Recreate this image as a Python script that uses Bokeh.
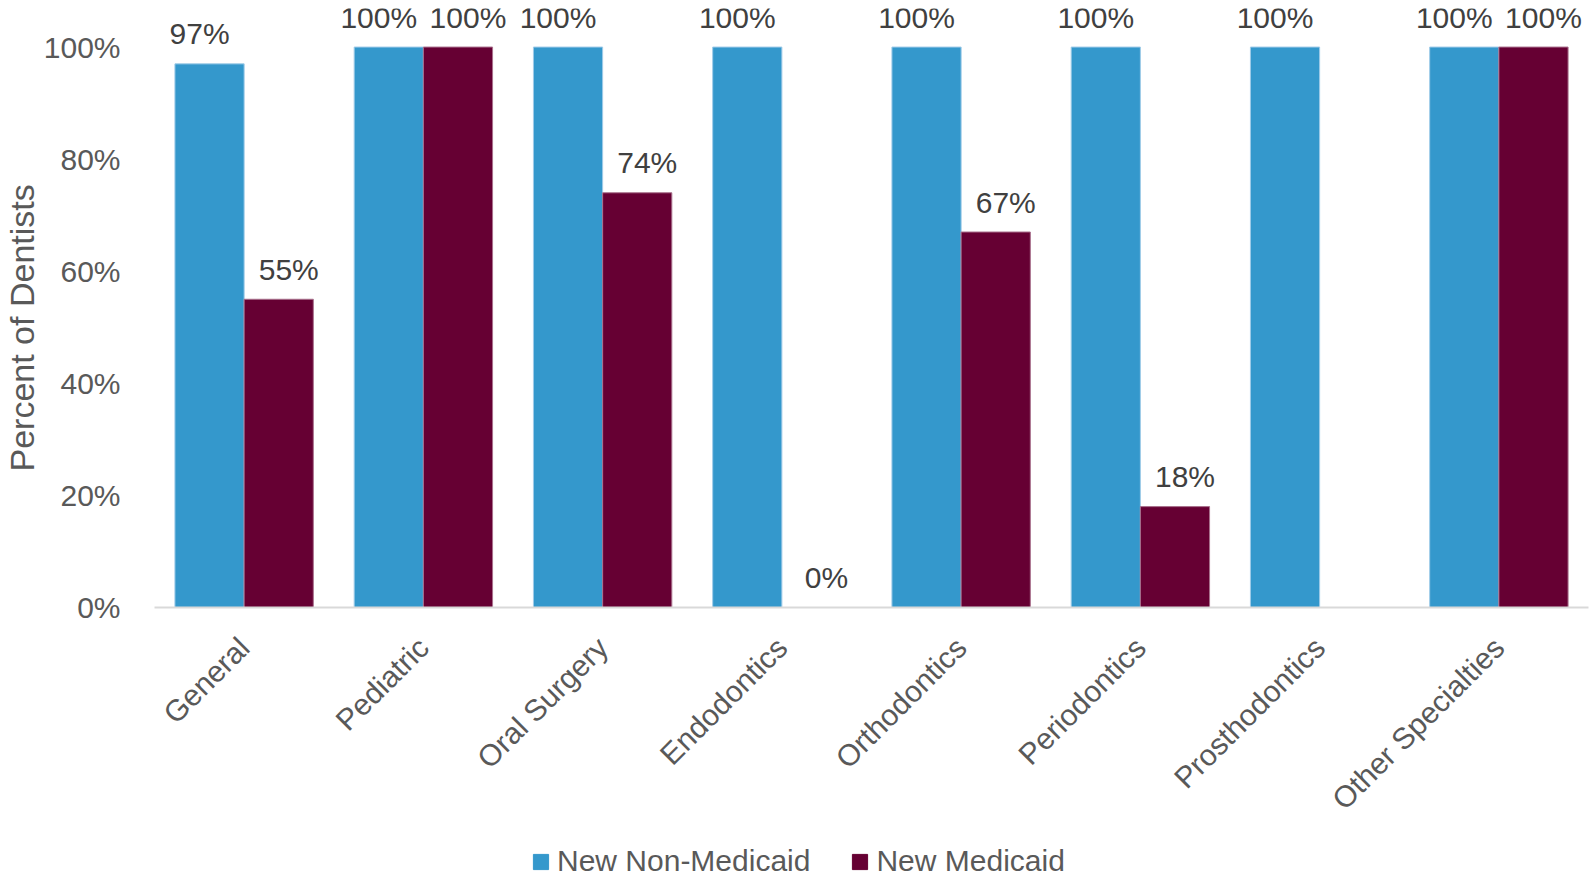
import math
from bokeh.plotting import figure
from bokeh.layouts import column
from bokeh.models import (ColumnDataSource, FactorRange, FixedTicker, NumeralTickFormatter,
                          Legend, LegendItem, Range1d, Title)
from bokeh.transform import dodge
from bokeh.core.properties import value
from bokeh.embed import file_html
from bokeh.resources import INLINE

categories = ["General", "Pediatric", "Oral Surgery", "Endodontics", "Orthodontics",
              "Periodontics", "Prosthodontics", "Other Specialties"]
non_medicaid = [0.97, 1.00, 1.00, 1.00, 1.00, 1.00, 1.00, 1.00]
medicaid = [0.55, 1.00, 0.74, 0.00, 0.67, 0.18, float("nan"), 1.00]
y_ticks = [0, 0.2, 0.4, 0.6, 0.8, 1.0]
series_names = ["New Non-Medicaid", "New Medicaid"]

BLUE = "#3498CC"
MAROON = "#660033"
FONT = "Liberation Sans"

def lbl(v):
    return "" if v != v else f"{round(v * 100)}%"

src = ColumnDataSource(dict(
    cat=categories,
    non=non_medicaid,
    med=medicaid,
    non_lbl=[lbl(v) for v in non_medicaid],
    med_lbl=[lbl(v) for v in medicaid],
))

p = figure(width=1589, height=830, x_range=FactorRange(*categories, range_padding=0),
           y_range=Range1d(0, 1.0688), output_backend="svg", toolbar_location=None,
           min_border_left=153, min_border_right=1, min_border_top=8, min_border_bottom=222)
p.x_range.range_padding = 0
p.outline_line_color = None
p.xgrid.visible = False
p.ygrid.visible = False
p.background_fill_color = "white"
p.border_fill_color = "white"

bw = 0.386
p.vbar(x=dodge("cat", -bw / 2, range=p.x_range), top="non", width=bw, source=src,
       fill_color=BLUE, line_color="#9FCBE8", line_width=1)
p.vbar(x=dodge("cat", bw / 2, range=p.x_range), top="med", width=bw, source=src,
       fill_color=MAROON, line_color="#A8708C", line_width=1)

p.text(x=dodge("cat", -bw / 2, range=p.x_range), y="non", text="non_lbl", source=src,
       x_offset=-10, y_offset=-30, text_align="center", text_baseline="alphabetic",
       text_font=value(FONT), text_font_size="30px", text_color="#404040")
p.text(x=dodge("cat", bw / 2, range=p.x_range), y="med", text="med_lbl", source=src,
       x_offset=10, y_offset=-30, text_align="center", text_baseline="alphabetic",
       text_font=value(FONT), text_font_size="30px", text_color="#404040")

# y axis
p.yaxis.ticker = FixedTicker(ticks=y_ticks)
p.yaxis.formatter = NumeralTickFormatter(format="0%")
p.yaxis.axis_line_color = None
p.yaxis.major_tick_line_color = None
p.yaxis.minor_tick_line_color = None
p.yaxis.major_label_standoff = 28
p.yaxis.major_label_text_font = FONT
p.yaxis.major_label_text_font_size = "30px"
p.yaxis.major_label_text_color = "#595959"

# x axis
p.xaxis.axis_line_color = "#D9D9D9"
p.xaxis.axis_line_width = 2
p.xaxis.major_tick_line_color = None
p.xaxis.minor_tick_line_color = None
p.xaxis.major_label_orientation = math.pi / 4
p.xaxis.major_label_standoff = 29
p.xaxis.major_label_text_font = FONT
p.xaxis.major_label_text_font_size = "30px"
p.xaxis.major_label_text_color = "#595959"

ytitle = Title(text="Percent of Dentists", align="left", offset=136, standoff=0,
               text_font=FONT, text_font_size="34px", text_font_style="normal",
               text_color="#595959")
p.add_layout(ytitle, "left")

# legend strip below the chart
lf = figure(width=1589, height=49, x_range=Range1d(0, 1), y_range=Range1d(0, 1),
            output_backend="svg", toolbar_location=None,
            min_border_left=0, min_border_right=0, min_border_top=0, min_border_bottom=0)
lf.axis.visible = False
lf.xgrid.visible = False
lf.ygrid.visible = False
lf.outline_line_color = None
lr1 = lf.vbar(x=[-10], top=[-10], width=0.1, fill_color=BLUE, line_color=BLUE)
lr2 = lf.vbar(x=[-10], top=[-10], width=0.1, fill_color=MAROON, line_color=MAROON)
legend = Legend(items=[LegendItem(label=series_names[0], renderers=[lr1]),
                       LegendItem(label=series_names[1], renderers=[lr2])],
                orientation="horizontal", location=(377, 1),
                glyph_width=19, glyph_height=19, label_standoff=7, spacing=40,
                padding=0, margin=0, border_line_color=None, background_fill_alpha=0,
                label_text_font=FONT, label_text_font_size="30px", label_text_color="#595959")
lf.add_layout(legend, "center")

open("out.html", "w").write(file_html(column(p, lf), INLINE))
